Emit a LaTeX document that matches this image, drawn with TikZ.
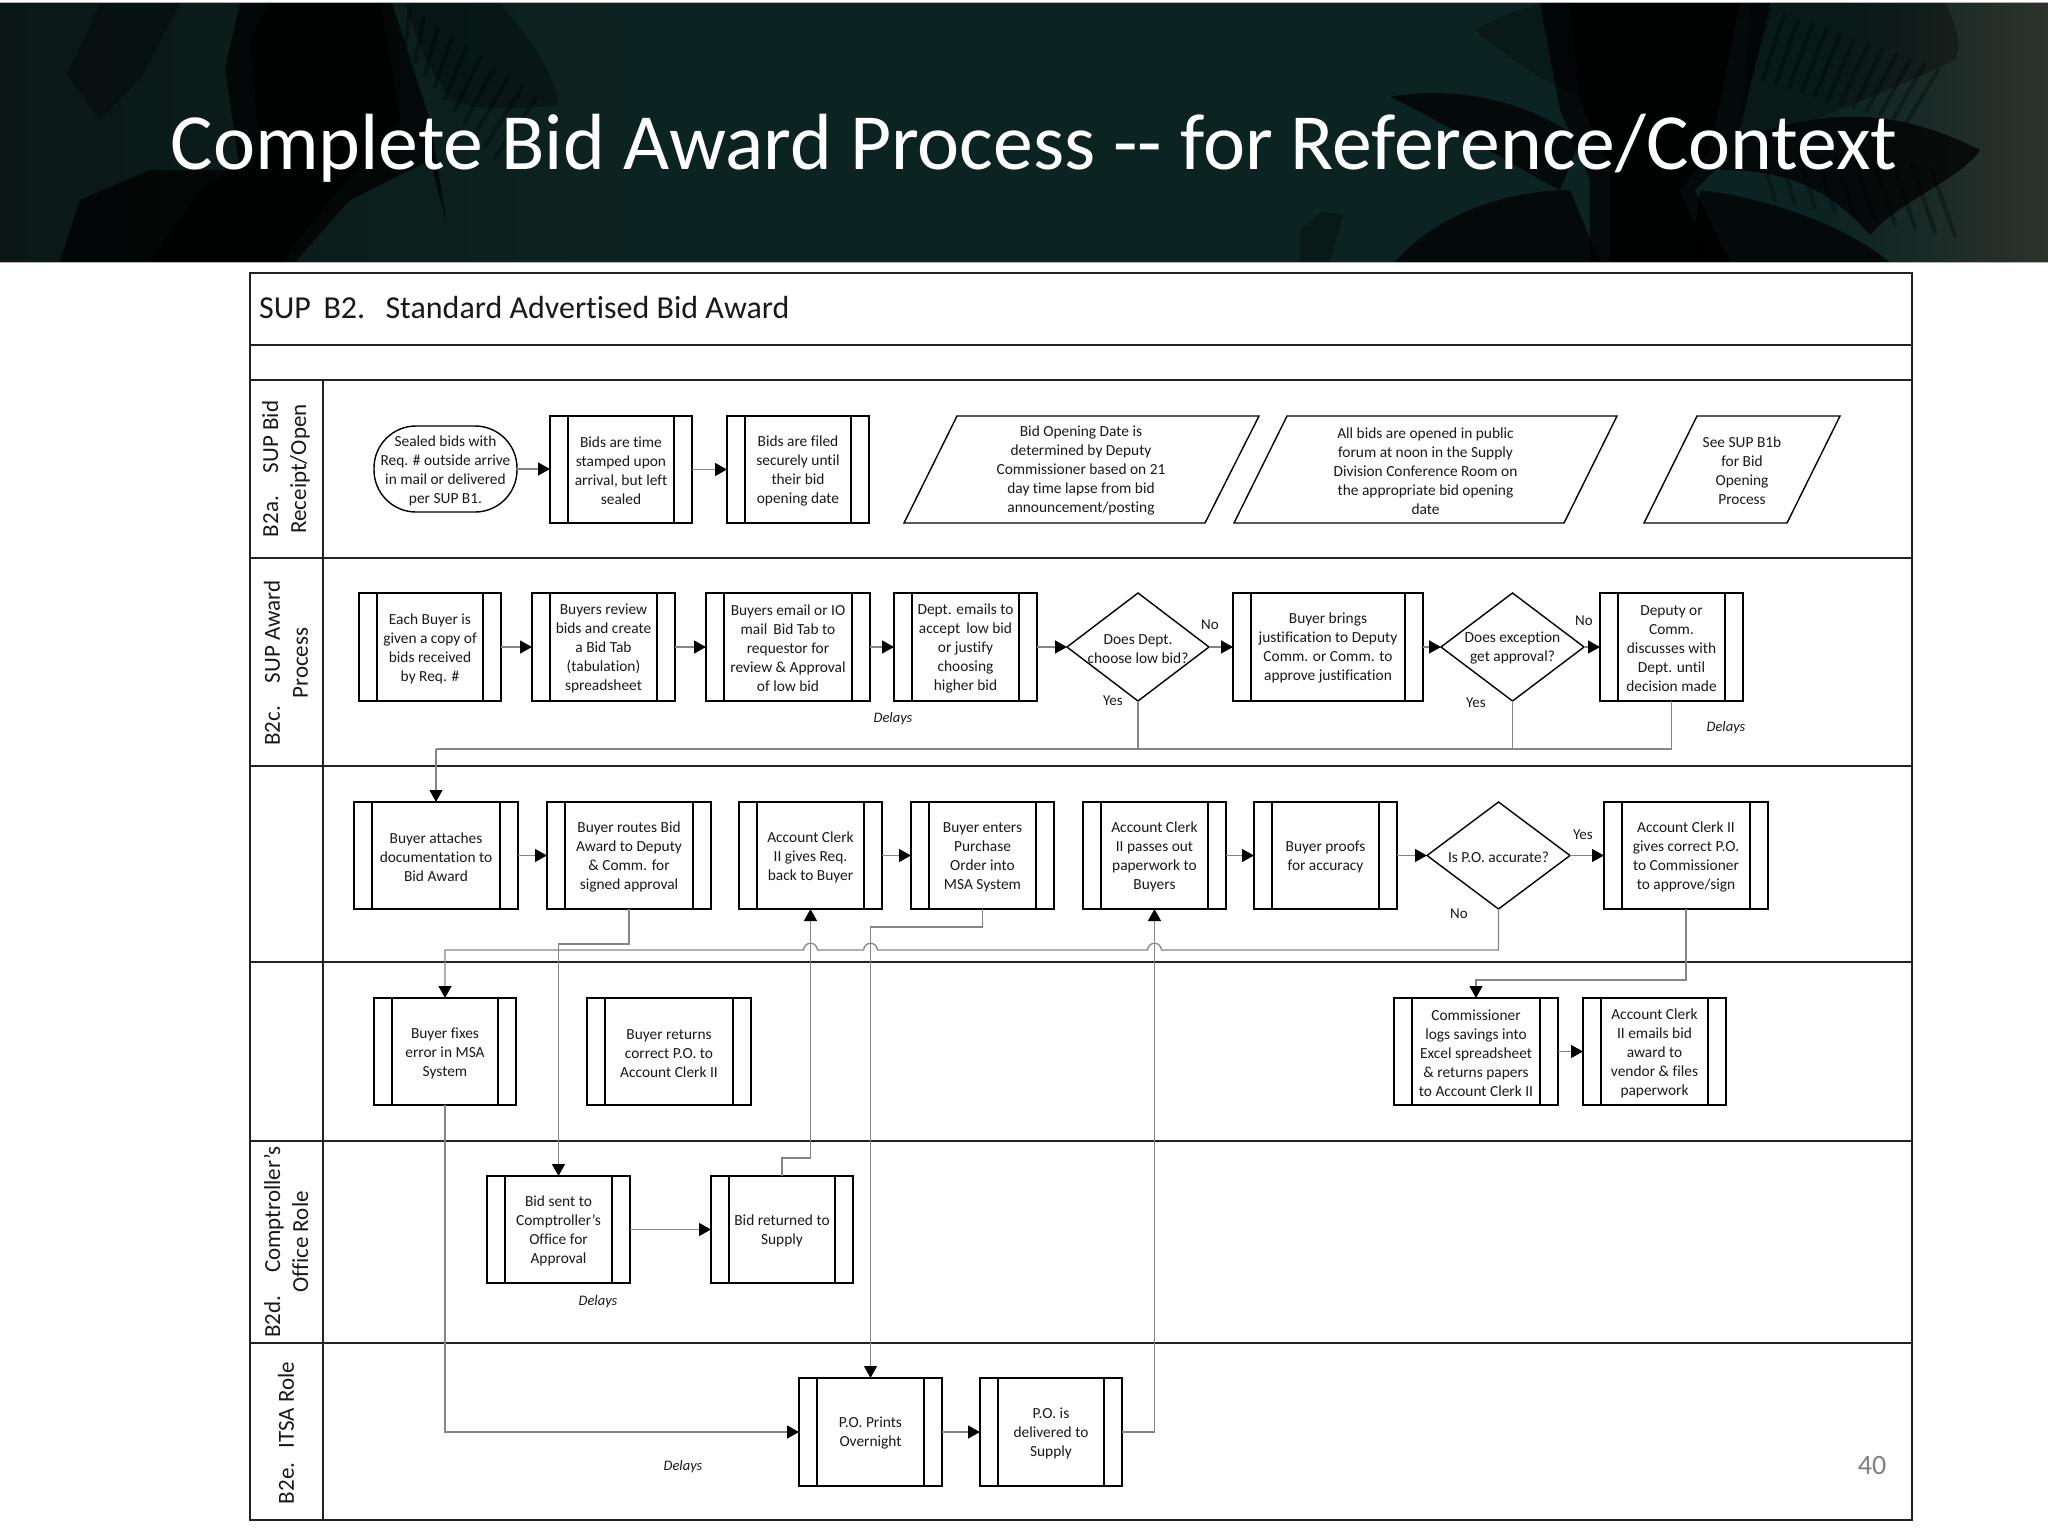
\documentclass[tikz,border=0pt]{standalone}
\usepackage{fontspec}
\setmainfont{Carlito}[Ligatures=NoCommon]
\usetikzlibrary{arrows.meta,calc,shapes.geometric}
\definecolor{conngrey}{HTML}{858585}
\definecolor{linedark}{HTML}{222222}
\definecolor{bannerdark}{HTML}{0C2421}
\definecolor{bannerleft}{HTML}{0A1715}
\definecolor{bannerright}{HTML}{2C322C}
\tikzset{
  body/.style={font=\fontsize{15.4}{19}\selectfont,align=center,text=black!90},
  procbox/.style={draw=black,line width=1.4pt,rectangle,inner sep=0pt,outer sep=0pt,body},
  inner/.style={draw=black,line width=1.3pt},
  shapeline/.style={draw=black,line width=1.4pt},
  lane/.style={draw=linedark,line width=2.2pt},
  conn/.style={draw=conngrey,line width=1.3pt},
  flow/.style={conn,-{Triangle[length=12pt,width=13pt,color=black]}},
  tag/.style={font=\fontsize{15}{17}\selectfont,text=black!90,inner sep=0pt},
  delay/.style={font=\fontsize{14.5}{17}\selectfont\itshape,text=black!90,inner sep=0pt},
  lanelabel/.style={font=\fontsize{23}{28}\selectfont,rotate=90,align=center,inner sep=0pt,text=black!90},
  frond/.style={fill=black,draw=none,opacity=.72},
  frondsoft/.style={fill=black,draw=none,opacity=.3},
  leaflet/.style={draw=black,line width=4pt,line cap=round,opacity=.3},
}
\newcommand{\drop}{\rule{0pt}{13.5pt}}
% name, x0, y0, x1, y1, text
\newcommand{\proc}[6]{%
  \node[procbox,minimum width={(#4-#2)*1pt},minimum height={(#5-#3)*1pt}] (#1) at ({(#2+#4)/2},{(#3+#5)/2}) {\drop#6};
  \draw[inner] ($(#1.north west)+(18,0)$) -- ($(#1.south west)+(18,0)$);
  \draw[inner] ($(#1.north east)+(-18,0)$) -- ($(#1.south east)+(-18,0)$);
}
% name, x0(bottom left), x1(top left), x2(bottom right), x3(top right), text
\newcommand{\para}[6]{%
  \node[body,inner sep=0pt,minimum width={(#4-#3)*1pt},minimum height=107pt] (#1) at ({(#3+#4)/2},469.5) {\drop#6};
  \draw[shapeline] (#2,523) -- (#3,416) -- (#5,416) -- (#4,523) -- cycle;
}
% name, x0, x1, y0, y1, text
\newcommand{\decide}[6]{%
  \node[shapeline,shape=diamond,inner sep=0pt,outer sep=0pt,minimum width={(#3-#2)*1pt},minimum height={(#5-#4)*1pt},
        label={[body,inner sep=0pt]center:{\drop#6}}] (#1) at ({(#2+#3)/2},{(#4+#5)/2}) {};
}
% jump over a vertical connector at coordinate #1
\newcommand{\hop}[1]{-- ($(#1)+(7,0)$) .. controls ($(#1)+(6,-9)$) and ($(#1)+(-6,-9)$) .. ($(#1)+(-7,0)$)}
\begin{document}
\begin{tikzpicture}[x=1pt,y=-1pt]
\useasboundingbox (0,0) rectangle (2048,1536);
\fill[white] (0,0) rectangle (2048,1536);
% ----- banner -----
\begin{scope}
\clip (0,3) rectangle (2048,262);
\fill[bannerdark] (0,3) rectangle (2048,262);
\shade[left color=bannerleft,right color=bannerdark] (0,3) rectangle (640,262);
\shade[left color=bannerdark,right color=bannerright] (1830,3) rectangle (2048,262);
% left palm
\fill[frondsoft] (67,75) -- (100,3) -- (180,3) -- (143,75) -- (100,120) -- cycle;
\fill[frondsoft] (405,3) -- (500,3) .. controls (530,40) and (555,70) .. (558,105) .. controls (520,110) and (470,110) .. (450,100) .. controls (430,70) and (415,40) .. (405,3) -- cycle;
\fill[frond] (225,68) -- (240,3) -- (392,3) -- (430,120) -- (447,225) -- (430,160) -- (350,200) -- (295,262) -- (60,262) -- (80,200) -- (150,170) -- (240,170) -- cycle;
\fill[frond] (250,40) -- (270,3) -- (380,3) -- (400,120) -- (330,200) -- (280,262) -- (150,262) -- (200,190) -- (260,150) -- cycle;
\foreach \t in {0,1,...,9} {\draw[leaflet] ({410+14*\t},{8+10*\t}) -- ({405+10*\t},{50+12*\t});}
% right palm
\fill[frondsoft] (1300,262) -- (1300,230) -- (1322,212) -- (1343,215) -- (1330,262) -- cycle;
\fill[frondsoft] (1475,30) .. controls (1500,15) and (1525,8) .. (1545,3) -- (1610,3) -- (1590,100) .. controls (1545,85) and (1505,55) .. (1475,30) -- cycle;
\fill[frondsoft] (1750,3) -- (1945,3) .. controls (1960,30) and (1960,50) .. (1955,60) .. controls (1900,85) and (1820,120) .. (1740,145) -- cycle;
\fill[frond] (1390,97) .. controls (1450,85) and (1530,100) .. (1580,140) -- (1560,190) .. controls (1520,170) and (1450,125) .. (1390,97) -- cycle;
\fill[frond] (1395,262) .. controls (1430,220) and (1500,190) .. (1570,190) -- (1600,262) -- cycle;
\fill[frond] (1700,190) .. controls (1780,200) and (1850,230) .. (1890,262) -- (1690,262) -- cycle;
\fill[frond] (1740,140) .. controls (1830,105) and (1900,110) .. (1980,150) .. controls (1960,180) and (1900,200) .. (1870,235) .. controls (1830,190) and (1790,170) .. (1720,170) -- cycle;
\fill[frond] (1540,3) -- (1770,3) -- (1735,150) -- (1695,190) -- (1730,262) -- (1590,262) -- (1590,180) -- (1560,110) -- cycle;
\fill[frond] (1570,3) -- (1740,3) -- (1710,150) -- (1680,190) -- (1710,262) -- (1610,262) -- (1610,170) -- (1580,100) -- cycle;
\foreach \t in {0,1,...,12} {\draw[leaflet] ({1770+14*\t},{10+5*\t}) -- ({1750+13*\t},{75+4*\t});}
\foreach \t in {0,1,...,9} {\draw[leaflet] ({1760+19*\t},{150+2*\t}) -- ({1775+20*\t},{200+4*\t});}
\end{scope}
\draw[black!30,line width=1pt] (0,262.5) -- (2048,262.5);
\draw[black!30,line width=1pt] (0,2.5) -- (2048,2.5);
\node[text=white,font=\fontsize{79.7}{86}\selectfont,inner sep=0pt] (title) at (1034,148) {Complete Bid Award Process -{}- for Reference/Context};
% ----- frame and lanes -----
\draw[lane] (250,273) rectangle (1912,1520);
\draw[lane] (250,345) -- (1912,345);
\draw[lane] (250,380) -- (1912,380);
\draw[lane] (250,558) -- (1912,558);
\draw[lane] (250,766) -- (1912,766);
\draw[lane] (250,962) -- (1912,962);
\draw[lane] (250,1141) -- (1912,1141);
\draw[lane] (250,1343) -- (1912,1343);
\draw[line width=1.6pt,draw=linedark] (323,380) -- (323,1520);
\node[font=\fontsize{32}{36}\selectfont,anchor=west,inner sep=0pt,text=black!90] (heading) at (259,308) {SUP\, B2.\, \,Standard Advertised Bid Award};
\node[lanelabel] (l1) at (286,469) {B2a.\quad SUP Bid\\Receipt/Open};
\node[lanelabel] (l2) at (286,663) {B2c.\quad SUP Award\\Process};
\node[lanelabel] (l3) at (286,1242) {B2d.\quad Comptroller’s\\Office Role};
\node[lanelabel] (l4) at (286,1433) {B2e.\hspace{14pt}ITSA Role};
\node[font=\fontsize{28}{32}\selectfont,text=black!50,inner sep=0pt] (page) at (1872,1465) {40};
% ----- row 1 -----
\node[shapeline,rectangle,rounded corners=42pt,minimum width=143pt,minimum height=86pt,inner sep=0pt,outer sep=0pt,body] (start) at (445.5,469) {\drop Sealed bids with\\Req. \# outside arrive\\in mail or delivered\\per SUP B1.};
\proc{stamp}{550}{416}{692}{523}{Bids are time\\stamped upon\\arrival, but left\\sealed}
\proc{filed}{727}{416}{869}{523}{Bids are filed\\securely until\\their bid\\opening date}
\para{open1}{904}{957}{1205}{1259}{Bid Opening Date is\\determined by Deputy\\Commissioner based on 21\\day time lapse from bid\\announcement/posting}
\para{open2}{1234}{1287}{1564}{1617}{All bids are opened in public\\forum at noon in the Supply\\Division Conference Room on\\the appropriate bid opening\\date}
\para{open3}{1644}{1697}{1787}{1840}{See SUP B1b\\for Bid\\Opening\\Process}
% ----- row 2 -----
\proc{copy}{359}{593}{501}{701}{Each Buyer is\\given a copy of\\bids received\\by Req. \#}
\proc{review}{532}{593}{675}{701}{Buyers review\\bids and create\\a Bid Tab\\(tabulation)\\spreadsheet}
\proc{email}{706}{593}{870}{701}{Buyers email or IO\\mail\, Bid Tab to\\requestor for\\review \& Approval\\of low bid}
\proc{dept}{894}{593}{1037}{701}{Dept. emails to\\accept\, low bid\\or justify\\choosing\\higher bid}
\decide{lowbid}{1067}{1209}{593}{701}{Does Dept.\\choose low bid?}
\proc{justify}{1233}{593}{1423}{701}{Buyer brings\\justification to Deputy\\Comm. or Comm. to\\approve justification}
\decide{except}{1441}{1584}{593}{701}{Does exception\\get approval?}
\proc{deputy}{1600}{593}{1743}{701}{Deputy or\\Comm.\\discusses with\\Dept. until\\decision made}
% ----- row 3 -----
\proc{attach}{354}{802}{518}{909}{Buyer attaches\\documentation to\\Bid Award}
\proc{routes}{547}{802}{711}{909}{Buyer routes Bid\\Award to Deputy\\\& Comm. for\\signed approval}
\proc{gives}{739}{802}{882}{909}{Account Clerk\\II gives Req.\\back to Buyer}
\proc{enters}{911}{802}{1054}{909}{Buyer enters\\Purchase\\Order into\\MSA System}
\proc{passes}{1083}{802}{1226}{909}{Account Clerk\\II passes out\\paperwork to\\Buyers}
\proc{proofs}{1254}{802}{1397}{909}{Buyer proofs\\for accuracy}
\decide{accurate}{1427}{1570}{802}{909}{Is P.O. accurate?}
\proc{correct}{1604}{802}{1768}{909}{Account Clerk II\\gives correct P.O.\\to Commissioner\\to approve/sign}
% ----- row 4 -----
\proc{fixes}{374}{998}{516}{1105}{Buyer fixes\\error in MSA\\System}
\proc{returns}{587}{998}{751}{1105}{Buyer returns\\correct P.O. to\\Account Clerk II}
\proc{logs}{1394}{998}{1558}{1105}{Commissioner\\logs savings into\\Excel spreadsheet\\\& returns papers\\to Account Clerk II}
\proc{award}{1583}{998}{1726}{1105}{Account Clerk\\II emails bid\\award to\\vendor \& files\\paperwork}
% ----- row 5, 6 -----
\proc{sent}{487}{1176}{630}{1283}{Bid sent to\\Comptroller’s\\Office for\\Approval}
\proc{back}{711}{1176}{853}{1283}{Bid returned to\\Supply}
\proc{prints}{799}{1378}{942}{1486}{P.O. Prints\\Overnight}
\proc{delivered}{980}{1378}{1122}{1486}{P.O. is\\delivered to\\Supply}
% ----- labels -----
\node[tag] (yes1) at (1113,701) {Yes};
\node[tag] (no1) at (1210,625) {No};
\node[tag] (yes2) at (1476,703) {Yes};
\node[tag] (no2) at (1584,621) {No};
\node[tag] (yes3) at (1583,835) {Yes};
\node[tag] (no3) at (1459,914) {No};
\node[delay] (dl1) at (893,719) {Delays};
\node[delay] (dl2) at (1726,728) {Delays};
\node[delay] (dl3) at (598,1302) {Delays};
\node[delay] (dl4) at (683,1467) {Delays};
% ----- connectors -----
\draw[flow] (start.east) -- (start.east -| stamp.west);
\draw[flow] (stamp.east) -- (filed.west);
\draw[flow] (copy.east) -- (review.west);
\draw[flow] (review.east) -- (email.west);
\draw[flow] (email.east) -- (dept.west);
\draw[flow] (dept.east) -- (lowbid.west);
\draw[flow] (lowbid.east) -- (justify.west);
\draw[flow] (justify.east) -- (except.west);
\draw[flow] (except.east) -- (deputy.west);
\coordinate (joinr) at (deputy.south |- 0,749);
\coordinate (joinl) at (attach.north |- 0,749);
\draw[conn] (deputy.south) -- (joinr) -- (joinl);
\draw[conn] (lowbid.south) -- (lowbid.south |- joinr);
\draw[conn] (except.south) -- (except.south |- joinr);
\draw[flow] (joinl) -- (attach.north);
\draw[flow] (attach.east) -- (routes.west);
\draw[flow] (gives.east) -- (enters.west);
\draw[flow] (passes.east) -- (proofs.west);
\draw[flow] (proofs.east) -- (accurate.west);
\draw[flow] (accurate.east) -- (correct.west);
\draw[flow] (logs.east) -- (award.west);
\draw[flow] (sent.east) -- (back.west);
\draw[flow] (prints.east) -- (delivered.west);
% PO line
\coordinate (poy) at (prints.north |- 0,927);
\draw[flow] (enters.south) -- (enters.south |- poy) -- (poy) -- (prints.north);
% routes -> sent
\coordinate (ry) at (routes.south |- 0,944);
\draw[flow] (routes.south) -- (ry) -- (sent.north |- ry) -- (sent.north);
% back -> gives
\coordinate (by) at (back.north |- 0,1158);
\draw[flow] (back.north) -- (by) -- (gives.south |- by) -- (gives.south);
% delivered -> passes
\coordinate (dx) at (passes.south |- delivered.east);
\draw[flow] (delivered.east) -- (dx) -- (passes.south);
% not accurate -> fixes, hopping three lines
\coordinate (ny) at (accurate.south |- 0,950);
\coordinate (h1) at (passes.south |- ny);
\coordinate (h2) at (poy |- ny);
\coordinate (h3) at (gives.south |- ny);
\coordinate (nl) at (fixes.north |- ny);
\draw[flow] (accurate.south) -- (ny) \hop{h1} \hop{h2} \hop{h3} -- (nl) -- (fixes.north);
% correct -> logs
\coordinate (cy) at (correct.south |- 0,980);
\draw[flow] (correct.south) -- (cy) -- (logs.north |- cy) -- (logs.north);
% fixes -> prints
\coordinate (fy) at (fixes.south |- prints.west);
\draw[flow] (fixes.south) -- (fy) -- (prints.west);
\end{tikzpicture}
\end{document}
